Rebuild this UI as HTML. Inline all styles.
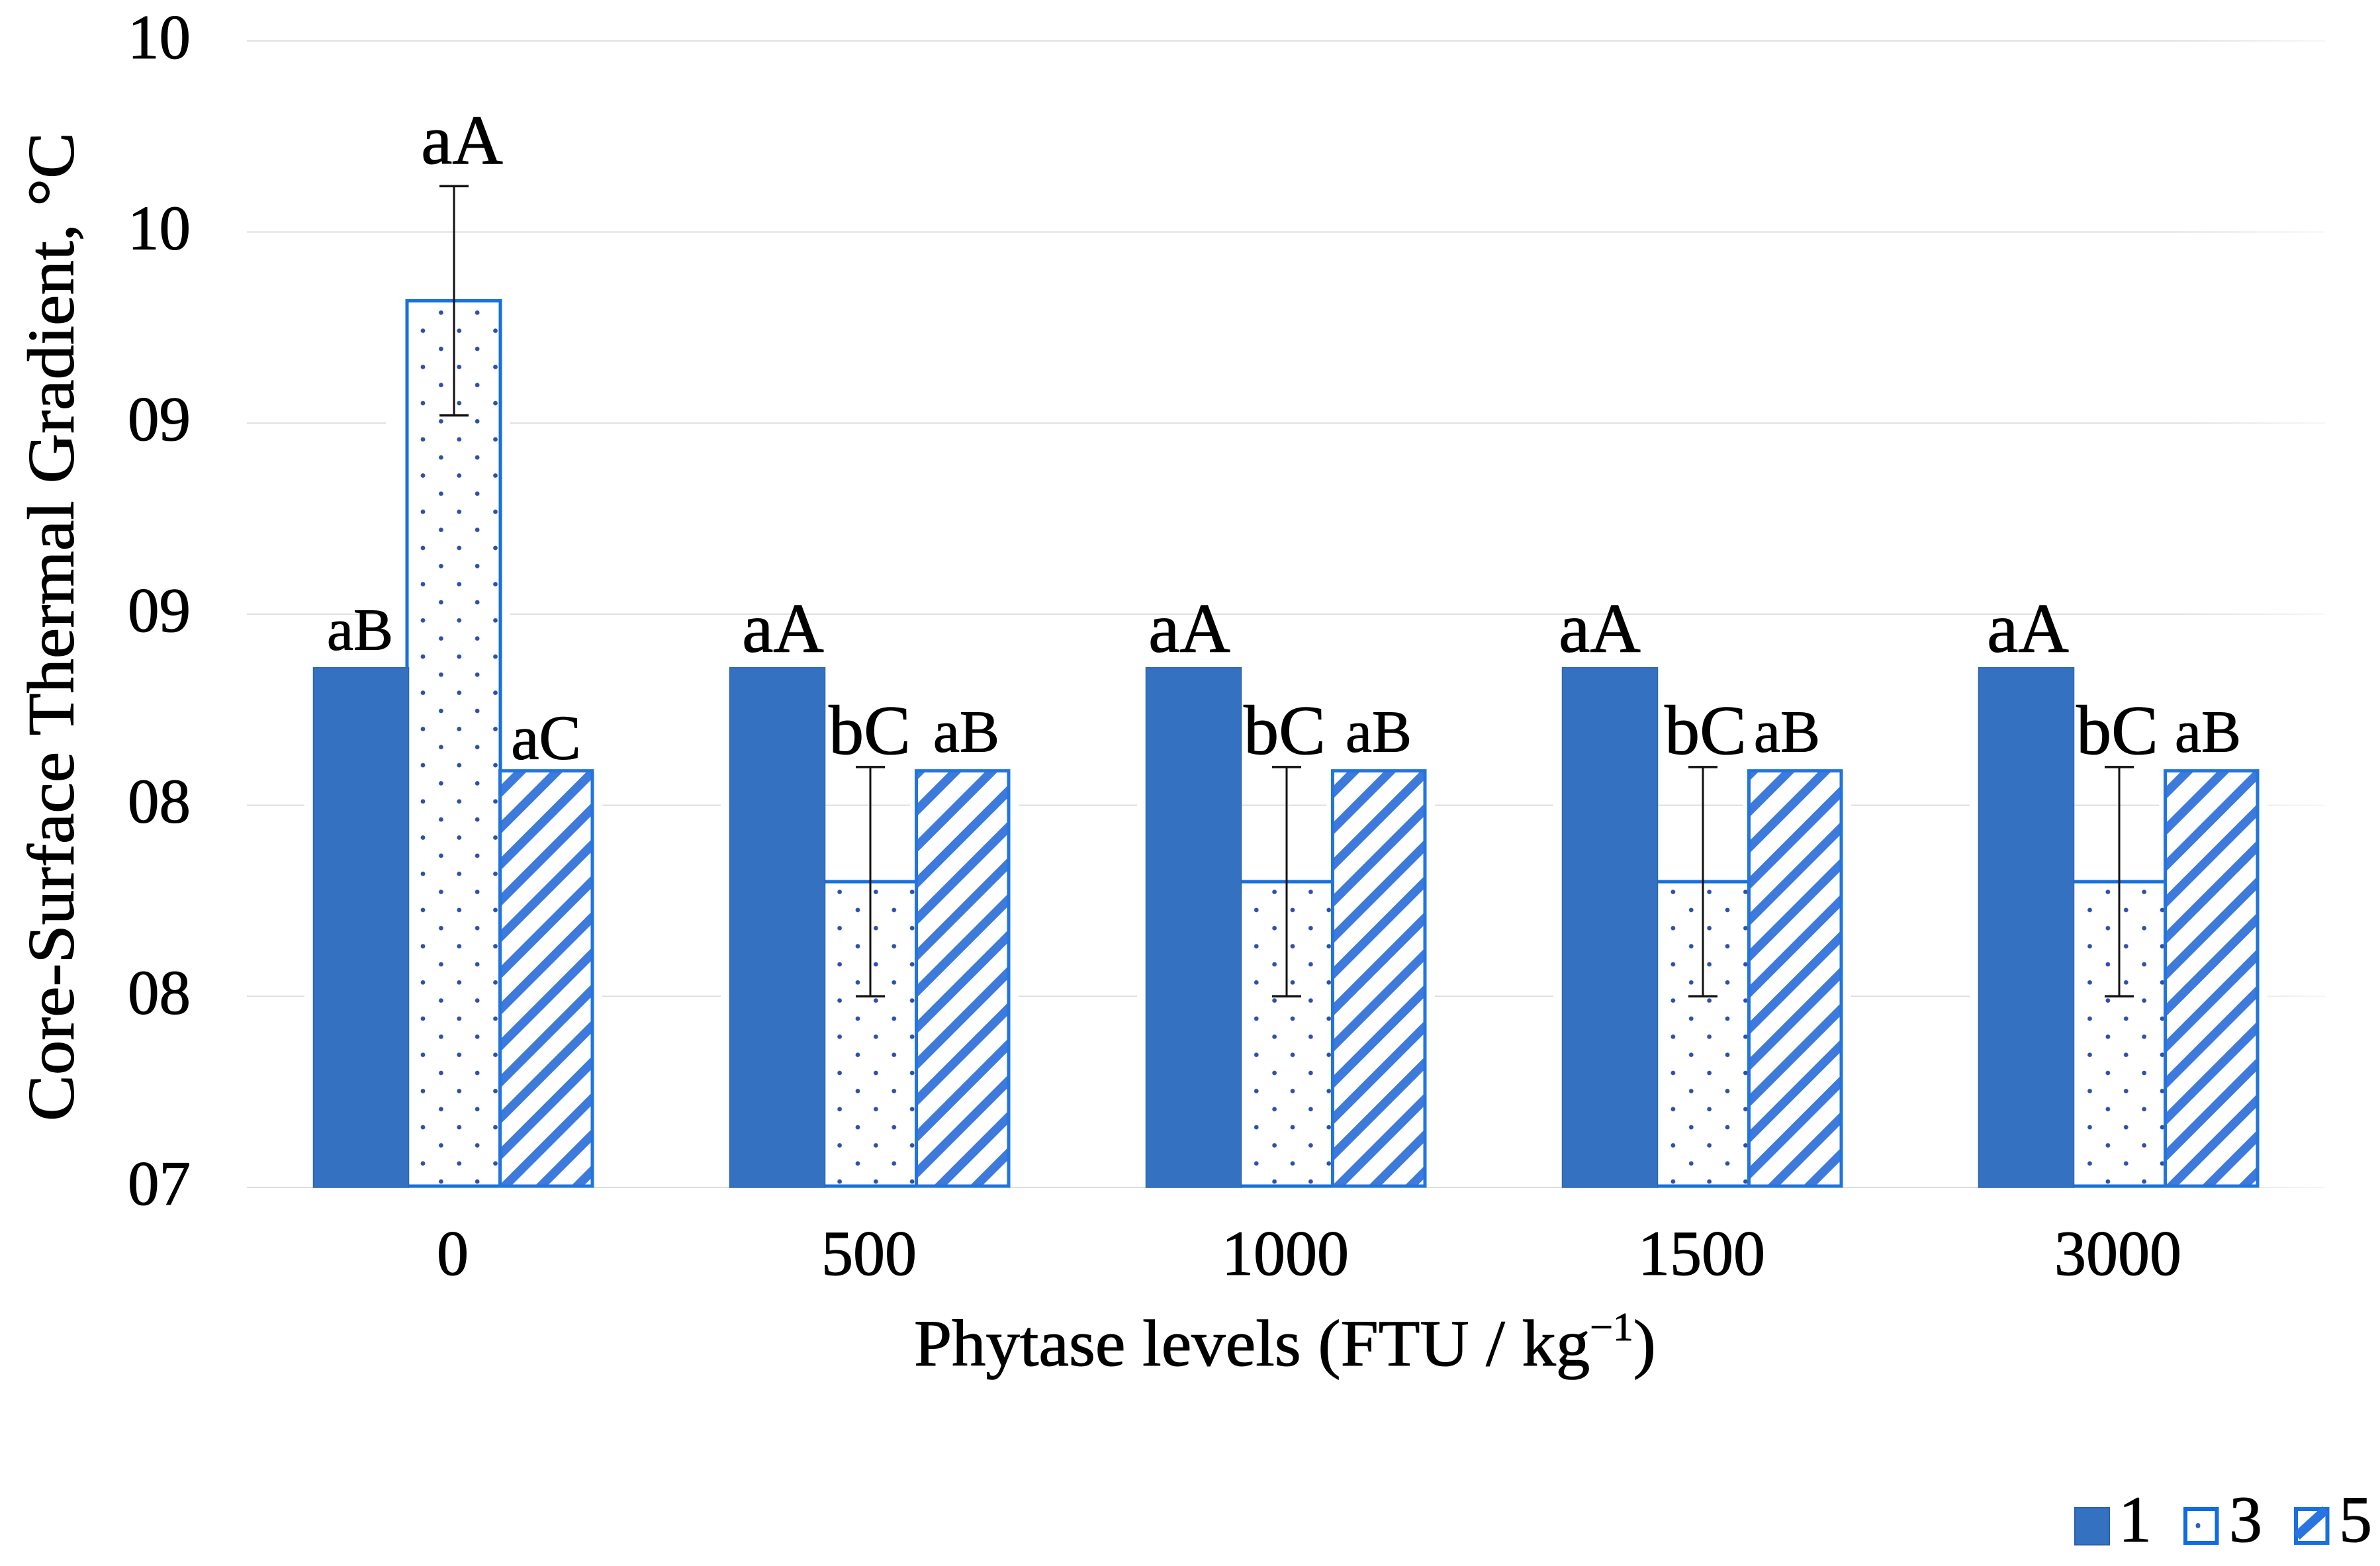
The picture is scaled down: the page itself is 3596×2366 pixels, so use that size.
<!DOCTYPE html>
<html lang="en">
<head>
<meta charset="utf-8">
<title>Core-Surface Thermal Gradient</title>
<style>
html,body{margin:0;padding:0;background:#fff;}
svg{display:block;}
text{font-family:"Liberation Serif",serif;fill:#000;stroke:#000;stroke-width:1.1px;}
</style>
</head>
<body>
<svg id="chart" xmlns="http://www.w3.org/2000/svg" width="3596" height="2366" viewBox="0 0 3596 2366">
  <rect width="3596" height="2366" fill="#fff"/>
  <defs>
    <pattern id="dots" patternUnits="userSpaceOnUse" width="54.75" height="54.7" patternTransform="translate(639 992)">
      <circle cx="0" cy="0" r="3.4" fill="#2f50a8"/>
      <circle cx="54.75" cy="0" r="3.4" fill="#2f50a8"/>
      <circle cx="0" cy="54.7" r="3.4" fill="#2f50a8"/>
      <circle cx="54.75" cy="54.7" r="3.4" fill="#2f50a8"/>
      <circle cx="27.375" cy="27.35" r="3.4" fill="#2f50a8"/>
    </pattern>
    <pattern id="stripes" patternUnits="userSpaceOnUse" width="38.71" height="38.71" patternTransform="translate(2599.8 0) rotate(45)">
      <rect x="0" y="0" width="13.4" height="38.71" fill="#3e7adb"/>
    </pattern>
    <linearGradient id="grid-fade" gradientUnits="userSpaceOnUse" x1="373" y1="0" x2="3513" y2="0">
      <stop offset="0" stop-color="#dedede"/>
      <stop offset="0.93" stop-color="#dedede"/>
      <stop offset="1" stop-color="#f6f6f6"/>
    </linearGradient>
  </defs>
  <g id="grid"></g>
  <g id="halos"></g>
  <g id="bars"></g>
  <g id="errors"></g>
  <g id="labels"></g>
  <g id="yticks"></g>
  <g id="xticks"></g>
  <text transform="translate(110.500 1694) rotate(-90)" font-size="100" textLength="1494" lengthAdjust="spacingAndGlyphs">Core-Surface Thermal Gradient, °C</text>
  <text x="1381" y="2063" font-size="100" textLength="1121" lengthAdjust="spacingAndGlyphs">Phytase levels (FTU / kg<tspan font-size="60" dy="-38">−1</tspan><tspan dy="38">)</tspan></text>
  <g id="legend">
    <g>
      <rect x="3135" y="2278" width="52" height="56" fill="#3471c1" stroke="#2a5fae" stroke-width="2"/>
      <text x="3201" y="2329" font-size="100">1</text>
    </g>
    <g>
      <rect x="3302" y="2280" width="47.500" height="51" fill="#fff" stroke="#0f6be6" stroke-width="6"/>
      <ellipse cx="3321" cy="2305" rx="3.500" ry="4" fill="#2f5fc8"/>
      <text x="3368" y="2329" font-size="100">3</text>
    </g>
    <g>
      <rect x="3469" y="2280" width="47.500" height="51" fill="#fff" stroke="#1a6fe0" stroke-width="6"/>
      <line x1="3470" y1="2321" x2="3514" y2="2281" stroke="#2a74e0" stroke-width="14"/>
      <text x="3534" y="2329" font-size="100">5</text>
    </g>
  </g>
</svg>
<script>
// Chart data
const categories = ['0', '500', '1000', '1500', '3000'];
const series1 = [8.36, 8.36, 8.36, 8.36, 8.36];
const series3 = [9.32, 7.80, 7.80, 7.80, 7.80];
const series5 = [8.09, 8.09, 8.09, 8.09, 8.09];
const series3Error = [0.30, 0.30, 0.30, 0.30, 0.30];
const yTickValues = [7, 7.5, 8, 8.5, 9, 9.5, 10];
const yTickLabels = ['07', '08', '08', '09', '09', '10', '10'];
const series1Labels = ['aB', 'aA', 'aA', 'aA', 'aA'];
const series3Labels = ['aA', 'bC', 'bC', 'bC', 'bC'];
const series5Labels = ['aC', 'aB', 'aB', 'aB', 'aB'];

// Axis functions
const Y_BASE = 1794, Y_UNIT = 577.4;
const X_FIRST = 686, X_STEP = 629;
function yScale(v) { return Y_BASE - (v - 7) * Y_UNIT; }
function xCenter(i) { return X_FIRST + X_STEP * i; }

const NS = 'http://www.w3.org/2000/svg';
function make(tag, parent, attrs, text) {
  const el = document.createElementNS(NS, tag);
  for (const k in attrs) el.setAttribute(k, attrs[k]);
  if (text !== undefined) el.textContent = text;
  parent.appendChild(el);
  return el;
}
const gridG = document.getElementById('grid');
const haloG = document.getElementById('halos');
const barsG = document.getElementById('bars');
const errG = document.getElementById('errors');
const labG = document.getElementById('labels');
const yG = document.getElementById('yticks');
const xG = document.getElementById('xticks');

// Y ticks and gridlines
yTickValues.forEach(function (v, i) {
  const y = yScale(v);
  const line = make('line', gridG, { x1: 373, x2: 3513, y1: y, y2: y + 0.01, stroke: 'url(#grid-fade)', 'stroke-width': 2 });
  
  
  const t = make('text', yG, { x: 288, y: y + 26, 'font-size': 95, 'text-anchor': 'end' }, yTickLabels[i]);
  
  
});

// Label layout: horizontal nudges from the category centre
const labelNudgeX = [[-142, 12, 139], [-132, -1, 145], [-147, -3, 139], [-156, 4, 127], [-138, -3, 134]];

categories.forEach(function (cat, i) {
  const c = xCenter(i);
  const y1 = yScale(series1[i]);
  const y3 = yScale(series3[i]);
  const y5 = yScale(series5[i]);

  // white halos around each bar, which break the gridlines just beside the bars
  const halo1 = make('rect', haloG, { x: c - 226, y: y1, width: 150, height: Y_BASE - y1 - 4, fill: '#fff' });
  
  
  const halo3 = make('rect', haloG, { x: c - 103, y: y3, width: 188, height: Y_BASE - y3 - 4, fill: '#fff' });
  
  
  const halo5 = make('rect', haloG, { x: c + 60, y: y5, width: 164, height: Y_BASE - y5 - 4, fill: '#fff' });
  
  

  // series 3 (dotted) drawn first so the neighbours overlap its sides
  const b3 = make('rect', barsG, { x: c - 71, y: y3, width: 141, height: Y_BASE - y3 - 2, fill: '#fff' });
  
  
  const b3p = make('rect', barsG, { x: c - 71, y: y3, width: 141, height: Y_BASE - y3 - 2, fill: 'url(#dots)', stroke: '#1570e0', 'stroke-width': 5 });
  
  

  // series 1 (solid)
  const b1 = make('rect', barsG, { x: c - 212.5, y: y1, width: 144, height: Y_BASE - y1, fill: '#3471c1', stroke: '#2d65b4', 'stroke-width': 1.5 });
  
  

  // series 5 (striped)
  const b5bg = make('rect', barsG, { x: c + 69.5, y: y5, width: 139.5, height: Y_BASE - y5 - 2, fill: '#fff' });
  
  
  const b5 = make('rect', barsG, { x: c + 69.5, y: y5, width: 139.5, height: Y_BASE - y5 - 2, fill: 'url(#stripes)', stroke: '#2274e0', 'stroke-width': 5 });
  
  

  // error bar on series 3
  const top = yScale(series3[i] + series3Error[i]);
  const bot = yScale(series3[i] - series3Error[i]);
  const stem = make('line', errG, { x1: c, x2: c, y1: top, y2: bot, stroke: '#111', 'stroke-width': 3 });
  
  
  const capT = make('line', errG, { x1: c - 22, x2: c + 22, y1: top, y2: top, stroke: '#111', 'stroke-width': 3.5 });
  
  
  const capB = make('line', errG, { x1: c - 22, x2: c + 22, y1: bot, y2: bot, stroke: '#111', 'stroke-width': 3.5 });
  
  

  // significance labels
  const nudge = labelNudgeX[i];
  const aBsmall = series1Labels[i] === 'aB';
  const l1 = make('text', labG, { x: c + nudge[0], y: y1 - (aBsmall ? 27 : 24), 'font-size': aBsmall ? 90 : 106, 'text-anchor': 'middle' }, series1Labels[i]);
  
  
  const l3 = make('text', labG, { x: c + nudge[1], y: top - (i === 0 ? 34 : 20), 'font-size': 106, 'text-anchor': 'middle' }, series3Labels[i]);
  
  
  const l5 = make('text', labG, { x: c + nudge[2], y: y5 - (i === 0 ? 18 : 29), 'font-size': i === 0 ? 95 : 90, 'text-anchor': 'middle' }, series5Labels[i]);
  
  

  // x tick label
  const xt = make('text', xG, { x: c - 2, y: 1926, 'font-size': 96, 'text-anchor': 'middle' }, cat);
  
  
});
</script>
</body>
</html>
